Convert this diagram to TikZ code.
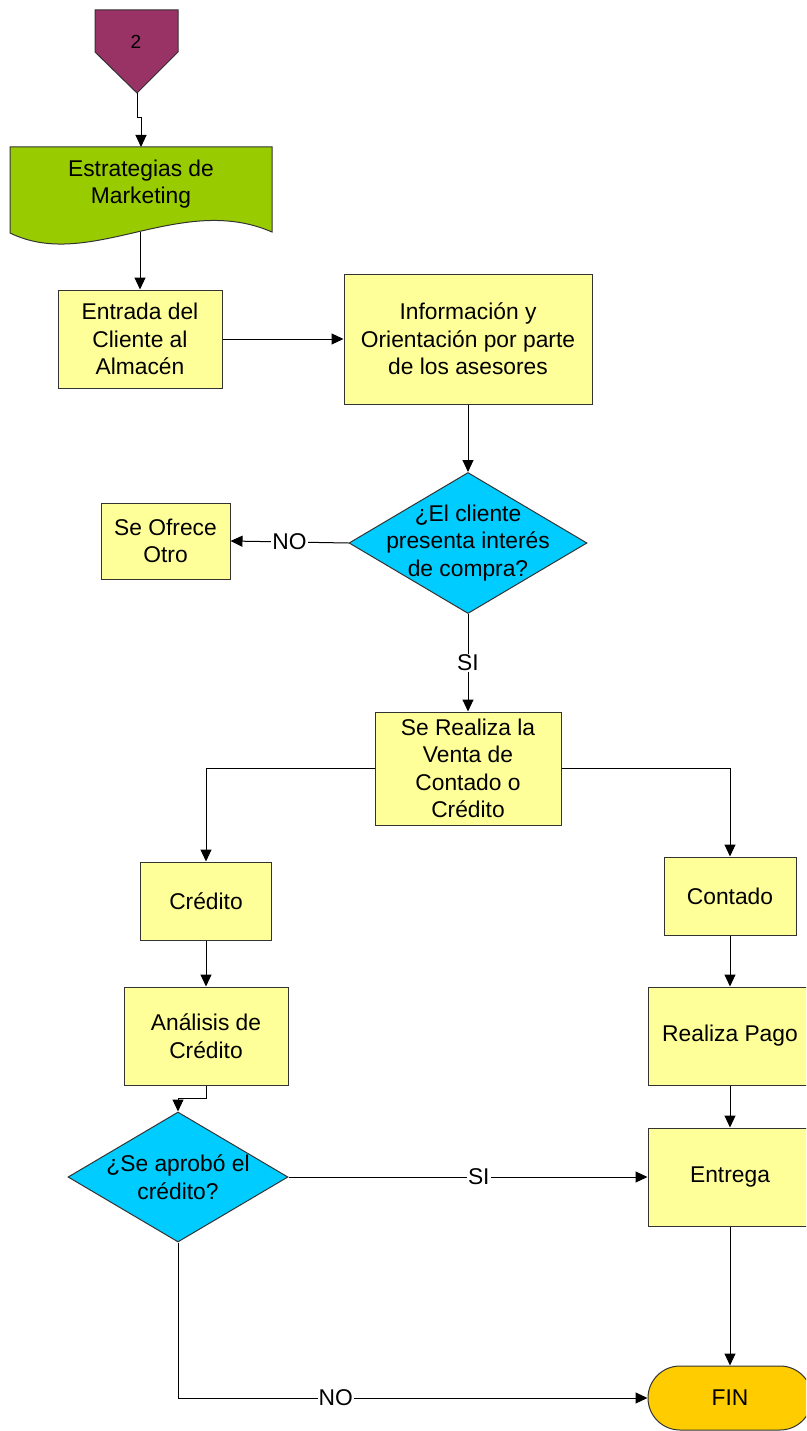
\documentclass[tikz,border=0pt]{standalone}
\usepackage{fontspec}
\setmainfont{Liberation Sans}
\usetikzlibrary{shapes.geometric,arrows.meta}
\definecolor{boxyellow}{HTML}{FFFF99}
\definecolor{diacyan}{HTML}{00CCFF}
\definecolor{docgreen}{HTML}{99CC00}
\definecolor{fingold}{HTML}{FFCC00}
\definecolor{connmaroon}{HTML}{993366}
\definecolor{bordergray}{HTML}{333333}
\tikzset{
  txt/.style={align=center,font=\fontsize{22.8}{27.5}\selectfont},
  procbox/.style={txt,rectangle,draw=bordergray,fill=boxyellow,line width=1pt,inner sep=0pt},
  decision/.style={diamond,draw=bordergray,fill=diacyan,line width=1pt,inner sep=0pt},
  terminal/.style={txt,rectangle,rounded corners=32pt,draw=bordergray,fill=fingold,line width=1pt,inner sep=0pt},
  flow/.style={draw=black,line width=1pt,-{Triangle[length=12pt,width=11pt]}},
  flabel/.style={txt,fill=white,inner sep=1pt}
}
\begin{document}
\begin{tikzpicture}[x=1pt,y=-1pt]
\useasboundingbox (0,0) rectangle (806,1431);
\clip (0,0) rectangle (806,1431);
\fill[white] (0,0) rectangle (806,1431);
% off-page connector
\draw[fill=connmaroon,draw=bordergray,line width=1pt] (95,10) -- (178,10) -- (178,52) -- (137,93) -- (95,52) -- cycle;
\node[font=\fontsize{19}{21}\selectfont] (conn) at (136,42) {2};
\coordinate (conntip) at (137,93);
% document shape
\draw[fill=docgreen,draw=bordergray,line width=1pt] (10,147) -- (272,147) -- (272,232)
  .. controls (180,192) and (90,272) .. (10,233) -- cycle;
\node[txt] (estr) at (141,184) {Estrategias de\\Marketing};
\coordinate (estrtop) at (141,147);
\coordinate (estrbot) at (140,232);
% boxes
\node[procbox,minimum width=164pt,minimum height=98pt] (entrada) at (140,339) {Entrada del\\Cliente al\\Almacén};
\node[procbox,minimum width=248pt,minimum height=130pt] (info) at (468,339) {Información y\\Orientación por parte\\de los asesores};
\node[decision,minimum width=238pt,minimum height=141pt,label={[txt]center:{¿El cliente\\presenta interés\\de compra?}}] (d1) at (468,543) {};
\node[procbox,minimum width=129pt,minimum height=76pt] (ofrece) at (165.5,541) {Se Ofrece\\Otro};
\node[procbox,minimum width=186pt,minimum height=113pt] (realiza) at (468,768.5) {Se Realiza la\\Venta de\\Contado o\\Crédito};
\node[procbox,minimum width=131pt,minimum height=78pt] (credito) at (206,901) {Crédito};
\node[procbox,minimum width=132pt,minimum height=78pt] (contado) at (730,896) {Contado};
\node[procbox,minimum width=164pt,minimum height=98pt] (analisis) at (206,1036) {Análisis de\\Crédito};
\node[procbox,minimum width=164pt,minimum height=98pt] (pago) at (730,1036) {Realiza Pago};
\node[decision,minimum width=220pt,minimum height=130pt,label={[txt]center:{¿Se aprobó el\\crédito?}}] (d2) at (178,1177) {};
\node[procbox,minimum width=164pt,minimum height=98pt] (entrega) at (730,1177) {Entrega};
\node[terminal,minimum width=164pt,minimum height=64pt] (fin) at (730,1398) {FIN};
% connectors
\draw[flow] (conntip) -- (137,118) -- (141,118) -- (estrtop);
\draw[flow] (estrbot) -- (entrada.north);
\draw[flow] (entrada.east) -- (info.west);
\draw[flow] (info.south) -- (d1.north);
\draw[flow] (d1.west) -- node[flabel]{NO} (ofrece.east);
\draw[flow] (d1.south) -- node[flabel]{SI} (realiza.north);
\draw[flow] (realiza.west) -| (credito.north);
\draw[flow] (realiza.east) -| (contado.north);
\draw[flow] (credito.south) -- (analisis.north);
\draw[flow] (analisis.south) -- ++(0,13) -| (d2.north);
\draw[flow] (contado.south) -- (pago.north);
\draw[flow] (pago.south) -- (entrega.north);
\draw[flow] (d2.east) -- node[flabel,pos=0.53]{SI} (entrega.west);
\draw[flow] (entrega.south) -- (fin.north);
\draw[flow] (d2.south) |- node[flabel,pos=0.668]{NO} (fin.west);
\end{tikzpicture}
\end{document}
